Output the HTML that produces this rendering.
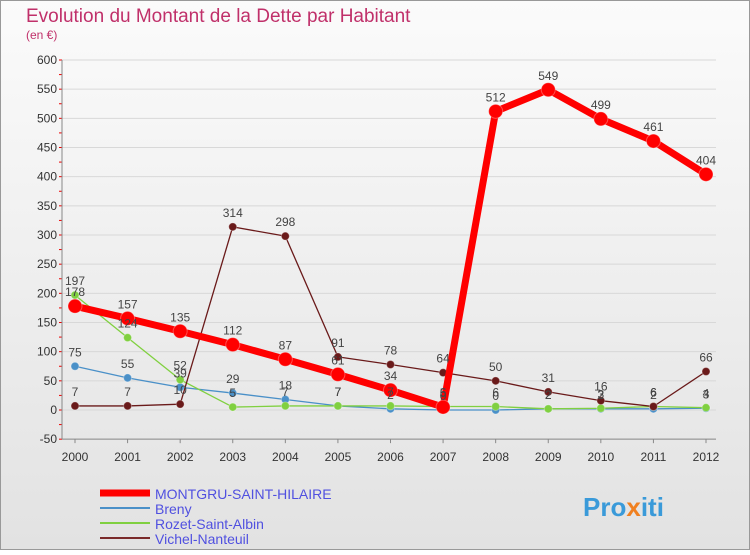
<!DOCTYPE html>
<html><head><meta charset="utf-8"><style>
body{margin:0;width:750px;height:550px;overflow:hidden;font-family:"Liberation Sans",sans-serif}
</style></head><body>
<svg width="750" height="550" xmlns="http://www.w3.org/2000/svg">
<defs><linearGradient id="bg" x1="0" y1="0" x2="0" y2="1"><stop offset="0" stop-color="#fbfbfb"/><stop offset="1" stop-color="#e2e2e2"/></linearGradient></defs>
<rect x="0.5" y="0.5" width="749" height="549" fill="url(#bg)" stroke="#999"/>
<text x="26" y="22" font-size="19" fill="#c0306a">Evolution du Montant de la Dette par Habitant</text>
<text x="26" y="39" font-size="12" fill="#c0306a">(en €)</text>
<g id="grid"></g><g id="axes"></g><g id="series"></g><g id="labels"></g>
<g>
<line x1="100" y1="493" x2="150" y2="493" stroke="#f00" stroke-width="7"/>
<text x="155" y="499" font-size="14" fill="#5050e0">MONTGRU-SAINT-HILAIRE</text>
<line x1="100" y1="508" x2="150" y2="508" stroke="#4a90c8" stroke-width="2"/>
<text x="155" y="514" font-size="14" fill="#5050e0">Breny</text>
<line x1="100" y1="523" x2="150" y2="523" stroke="#80d040" stroke-width="2"/>
<text x="155" y="529" font-size="14" fill="#5050e0">Rozet-Saint-Albin</text>
<line x1="100" y1="538" x2="150" y2="538" stroke="#7a2a2a" stroke-width="2"/>
<text x="155" y="544" font-size="14" fill="#5050e0">Vichel-Nanteuil</text>
</g>
<text x="583" y="516" font-size="26" font-weight="bold" fill="#3a9ad9">Pro<tspan fill="#f08020">x</tspan>iti</text>
</svg>
<script>
const years=[2000,2001,2002,2003,2004,2005,2006,2007,2008,2009,2010,2011,2012];
const yTicks=[-50,0,50,100,150,200,250,300,350,400,450,500,550,600];
const montgru=[178,157,135,112,87,61,34,5,512,549,499,461,404];
const breny=[75,55,39,29,18,7,2,0,0,2,2,2,3];
const rozet=[197,124,52,5,7,7,7,6,6,2,3,6,4];
const vichel=[7,7,10,314,298,91,78,64,50,31,16,6,66];
const NS="http://www.w3.org/2000/svg";
const X=i=>75+i*(706-75)/12;
const Y=v=>410-v*350/600;
function mk(tag,attrs,parent){const e=document.createElementNS(NS,tag);for(const k in attrs)e.setAttribute(k,attrs[k]);parent.appendChild(e);return e;}
const grid=document.getElementById('grid'),axes=document.getElementById('axes'),ser=document.getElementById('series'),lab=document.getElementById('labels');
yTicks.forEach(t=>{
 const l=mk('line',{x1:62,x2:716,y1:Y(t),y2:Y(t),stroke:'#d8d8d8'},grid);
 
 
 const tx=mk('text',{x:57,y:Y(t)+4,'font-size':12,fill:'#333','text-anchor':'end'},axes);
 tx.textContent=t;
 
 
});
for(let v=-50;v<=600;v+=25){mk('line',{x1:59,x2:62,y1:Y(v),y2:Y(v),stroke:'#e00'},axes);}
mk('line',{x1:62,x2:62,y1:Y(600),y2:Y(-50),stroke:'#888'},axes);
mk('line',{x1:62,x2:716,y1:Y(-50),y2:Y(-50),stroke:'#888'},axes);
years.forEach((y,i)=>{
 mk('line',{x1:X(i),x2:X(i),y1:Y(-50),y2:Y(-50)+4,stroke:'#888'},axes);
 const tx=mk('text',{x:X(i),y:Y(-50)+22,'font-size':12,fill:'#333','text-anchor':'middle'},axes);
 tx.textContent=y;
 
 
});
function draw(data,color,w,r,name){
 const p=mk('polyline',{points:data.map((v,i)=>X(i)+','+Y(v)).join(' '),fill:'none',stroke:color,'stroke-width':w,'stroke-linejoin':'round'},ser);
 
 
 data.forEach((v,i)=>{
  const c=mk('circle',{cx:X(i),cy:Y(v),r:r,fill:color,stroke:'#fff','stroke-opacity':0.3},ser);
  
  
  const t=mk('text',{x:X(i),y:Y(v)-10,'font-size':12,fill:'#444','text-anchor':'middle'},lab);
  t.textContent=v;
  
  
 });
}
draw(breny,'#4a90c8',1.3,4,'breny');
draw(rozet,'#80d040',1.3,4,'rozet');
draw(vichel,'#6a1a1a',1.3,4,'vichel');
draw(montgru,'#ff0000',7,7,'montgru');
</script>
</body></html>
